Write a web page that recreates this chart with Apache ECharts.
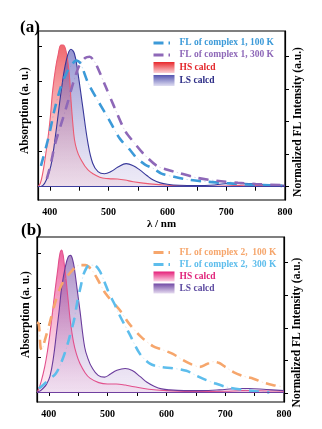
<!DOCTYPE html>
<html>
<head>
<meta charset="utf-8">
<script src="https://cdn.jsdelivr.net/npm/echarts@6/dist/echarts.min.js"></script>
<style>
  html, body { margin: 0; padding: 0; background: #fff; }
  #chart { width: 322px; height: 429px; }
</style>
</head>
<body>
<div id="chart"></div>
<script>
// 数据：[波长 nm, 数值]
// (a) 吸收谱（左轴）
const hsCalcdA = [[380,0],[384,0.1],[388,0.38],[392,0.8],[397,1.4],[401,2.0],[405,2.76],[410,3.4],[414,3.75],[419,4.05],[423,4.05],[428,3.85],[433,3.25],[436,2.5],[439,1.85],[442,1.35],[446,1.05],[451,0.84],[465,0.48],[485,0.27],[500,0.23],[515,0.22],[528,0.19],[542,0.14],[570,0.08],[600,0.04],[650,0.01],[700,0.02],[730,0.04],[770,0.03],[800,0.02]]
const lsCalcdA = [[380,0],[388,0.03],[394,0.19],[402,0.6],[410,1.5],[420,2.8],[428,3.6],[436,3.93],[442,3.8],[448,3.24],[456,2.29],[465,1.24],[473,0.67],[482,0.43],[493,0.37],[505,0.44],[516,0.56],[530,0.66],[542,0.6],[553,0.48],[565,0.32],[576,0.19],[588,0.11],[600,0.07],[620,0.04],[650,0.03],[680,0.05],[710,0.1],[730,0.1],[760,0.07],[800,0.04]]
// (a) 荧光（右轴，归一化）
const fl100A = [[385,0.16],[388,0.21],[394,0.31],[400,0.42],[408,0.59],[419,0.77],[428,0.87],[436,0.93],[445,0.97],[452,0.95],[465,0.8],[482,0.66],[499,0.53],[519,0.37],[535,0.29],[548,0.22],[562,0.17],[576,0.14],[590,0.1],[610,0.077],[633,0.055],[661,0.04],[690,0.03],[720,0.02],[750,0.013],[775,0.01],[795,0.005]]
const fl300A = [[395,0.06],[402,0.18],[408,0.31],[415,0.42],[422,0.52],[430,0.64],[440,0.8],[450,0.93],[460,0.99],[468,1.0],[475,0.97],[482,0.91],[495,0.77],[510,0.61],[528,0.43],[545,0.33],[560,0.25],[582,0.16],[600,0.13],[616,0.11],[650,0.068],[684,0.045],[720,0.03],[750,0.02],[800,0.01]]

// (b) 吸收谱
const hsCalcdB = [[380,0],[382,0.05],[387,0.3],[393,0.72],[398,1.2],[402,1.69],[406,2.25],[410,2.84],[415,3.5],[419,4.0],[422,4.1],[427,3.6],[433,2.65],[437,2.0],[442,1.45],[447,1.1],[453,0.82],[462,0.55],[470,0.4],[485,0.27],[500,0.23],[515,0.23],[530,0.2],[545,0.15],[570,0.08],[600,0.04],[650,0.01],[700,0.02],[730,0.04],[770,0.03],[800,0.02]]
const lsCalcdB = [[380,0],[385,0.03],[390,0.1],[396,0.22],[402,0.45],[408,1.0],[413,1.69],[418,2.4],[422,3.03],[428,3.6],[433,3.9],[437,3.95],[441,3.8],[444,3.52],[448,3.0],[453,2.36],[461,1.3],[467,0.95],[473,0.72],[484,0.48],[495,0.43],[505,0.52],[515,0.62],[530,0.68],[542,0.62],[555,0.45],[567,0.28],[580,0.16],[592,0.09],[605,0.06],[630,0.04],[660,0.04],[690,0.06],[720,0.1],[740,0.1],[770,0.07],[800,0.04]]
// (b) 荧光
const fl100B = [[380,0.54],[383,0.53],[386,0.35],[388,0.33],[393,0.4],[400,0.51],[412,0.71],[423,0.84],[440,0.94],[452,0.98],[462,0.98],[472,0.95],[482,0.88],[497,0.76],[520,0.64],[537,0.53],[557,0.43],[577,0.36],[594,0.33],[611,0.3],[625,0.26],[640,0.225],[657,0.2],[668,0.22],[680,0.24],[690,0.23],[700,0.2],[714,0.16],[730,0.13],[748,0.11],[765,0.08],[782,0.06],[795,0.05]]
const fl300B = [[383,0.034],[390,0.06],[400,0.1],[412,0.15],[420,0.22],[429,0.33],[436,0.44],[443,0.56],[449,0.71],[455,0.83],[460,0.92],[469,0.98],[477,0.98],[486,0.94],[494,0.86],[503,0.76],[512,0.68],[520,0.6],[537,0.455],[555,0.3],[572,0.225],[590,0.2],[611,0.19],[634,0.17],[648,0.14],[662,0.11],[682,0.075],[702,0.046],[730,0.025],[755,0.012],[775,0.005]]

// 刻度
const xTicks = [400,450,500,550,600,650,700,750,800]
const xLabels = [400,500,600,700,800]
const absTicks = [0,1,2,3,4]
const flTicks = [0,0.25,0.5,0.75,1]

const FONT = "'Liberation Serif', 'Times New Roman', serif"

function grad(top, bottom) {
    return { type: 'linear', x: 0, y: 0, x2: 0, y2: 1, colorStops: [{ offset: 0, color: top }, { offset: 1, color: bottom }] }
}

function xAxisOf(grid, showName) {
    return {
        type: 'value', gridIndex: grid, min: 380, max: 800,
        name: showName ? 'λ / nm' : '', nameLocation: 'middle', nameGap: 19,
        nameTextStyle: { fontFamily: FONT, fontWeight: 'bold', fontSize: 11, color: '#000' },
        axisLine: { lineStyle: { color: '#000', width: 1.2 } },
        axisTick: { length: 4, customValues: xTicks, lineStyle: { color: '#000' } },
        axisLabel: { customValues: xLabels, margin: 7, fontFamily: FONT, fontWeight: 'bold', fontSize: 10, color: '#000' },
        splitLine: { show: false }
    }
}

function yAxisOf(grid, pos, min, max, ticks, name, gap, pad) {
    return {
        type: 'value', gridIndex: grid, position: pos, min: min, max: max,
        name: name, nameLocation: 'middle', nameGap: gap, nameRotate: 90,
        nameTextStyle: { fontFamily: FONT, fontWeight: 'bold', fontSize: 11.5, color: '#000', padding: pad },
        axisLine: { show: true, lineStyle: { color: '#000', width: 1.2 } },
        axisTick: { show: true, inside: pos === 'left', length: 4, customValues: ticks, lineStyle: { color: '#000' } },
        axisLabel: { show: false },
        splitLine: { show: false }
    }
}

function areaSeries(name, data, xi, yi, lineColor, top, bottom, baseColor) {
    const s = {
        name: name, type: 'line', xAxisIndex: xi, yAxisIndex: yi, data: data,
        smooth: 0.4, symbol: 'none', showSymbol: false,
        lineStyle: { color: lineColor, width: 1.1 },
        itemStyle: { color: lineColor },
        areaStyle: { color: grad(top, bottom) }
    }
    if (baseColor) {
        s.markLine = { silent: true, symbol: 'none', label: { show: false }, lineStyle: { color: baseColor, type: 'solid', width: 1 }, data: [{ yAxis: 0 }] }
    }
    return s
}

// 荧光：粗虚线 + 浅色细线（模拟点划线的淡点）
function flSeries(name, data, xi, yi, color) {
    return [
        { name: name + '_bg', type: 'line', xAxisIndex: xi, yAxisIndex: yi, data: data, smooth: 0.3, symbol: 'none',
          lineStyle: { color: color, width: 1, opacity: 0.3, type: [1.5, 3] }, z: 3 },
        { name: name, type: 'line', xAxisIndex: xi, yAxisIndex: yi, data: data, smooth: 0.3, symbol: 'none', showSymbol: false,
          lineStyle: { color: color, width: 2.6, type: [10, 8] }, itemStyle: { color: color }, z: 4 }
    ]
}

function legendOf(top, gap, h, items) {
    return {
        orient: 'vertical', left: 147, top: top, itemWidth: 21, itemHeight: h, itemGap: gap,
        selectedMode: false,
        textStyle: { fontFamily: FONT, fontWeight: 'bold', fontSize: 9.5 },
        data: items
    }
}

const cA1 = '#3c9ad8', cA3 = '#8e68b8'
const cB1 = '#f6a66c', cB3 = '#5dbdec'

const myChart = echarts.init(document.getElementById('chart'))

const option = {
    animation: false,
    title: [
        { text: '(a)', left: 15, top: 14, textStyle: { fontFamily: FONT, fontWeight: 'bold', fontSize: 17, color: '#000' } },
        { text: '(b)', left: 16, top: 217, textStyle: { fontFamily: FONT, fontWeight: 'bold', fontSize: 17, color: '#000' } }
    ],
    grid: [
        { left: 38, top: 31, width: 247, height: 169, show: true, borderColor: '#000', borderWidth: 1.2, backgroundColor: 'transparent' },
        { left: 37, top: 237, width: 247, height: 165, show: true, borderColor: '#000', borderWidth: 1.2, backgroundColor: 'transparent' }
    ],
    legend: [
        legendOf(33, 2, 11, [
            { name: 'FL of complex 1, 100 K', itemStyle: { opacity: 0 }, lineStyle: { type: [10, 5, 1.5, 20], width: 3 }, textStyle: { color: cA1 } },
            { name: 'FL of complex 1, 300 K', itemStyle: { opacity: 0 }, lineStyle: { type: [10, 5, 1.5, 20], width: 3 }, textStyle: { color: cA3 } },
            { name: 'HS calcd', icon: 'rect', itemStyle: { color: grad('#e8282c', '#fbd2d6') }, textStyle: { color: '#e3262a' } },
            { name: 'LS calcd', icon: 'rect', itemStyle: { color: grad('#5555b0', '#e0def2') }, textStyle: { color: '#2c2c86' } }
        ]),
        legendOf(242.5, 2, 10, [
            { name: 'FL of complex 2,  100 K', itemStyle: { opacity: 0 }, lineStyle: { type: [10, 5, 1.5, 20], width: 3 }, textStyle: { color: cB1 } },
            { name: 'FL of complex 2,  300 K', itemStyle: { opacity: 0 }, lineStyle: { type: [10, 5, 1.5, 20], width: 3 }, textStyle: { color: cB3 } },
            { name: 'HS calcd ', icon: 'rect', itemStyle: { color: grad('#e51e78', '#fbd6e6') }, textStyle: { color: '#e0247a' } },
            { name: 'LS calcd ', icon: 'rect', itemStyle: { color: grad('#7048a4', '#e6dcf0') }, textStyle: { color: '#5c4aa0' } }
        ])
    ],
    xAxis: [xAxisOf(0, true), xAxisOf(1, false)],
    yAxis: [
        yAxisOf(0, 'left', -0.38, 4.45, absTicks, 'Absorption (a. u.)', 7, [0, 0, 0, 10]),
        yAxisOf(0, 'right', -0.103, 1.198, flTicks, 'Normalized FL Intensity (a.u.)', 7, [0, 13, 0, 0]),
        yAxisOf(1, 'left', -0.29, 4.48, absTicks, 'Absorption (a. u.)', 5, [0, 0, 0, 10]),
        yAxisOf(1, 'right', -0.069, 1.196, flTicks, 'Normalized FL Intensity (a.u.)', 7.5, [0, 26, 0, 0])
    ],
    series: [
        areaSeries('HS calcd', hsCalcdA, 0, 0, '#ec5a72', 'rgba(232,28,36,0.95)', 'rgba(246,170,180,0.35)'),
        areaSeries('LS calcd', lsCalcdA, 0, 0, '#38389a', 'rgba(64,64,172,0.8)', 'rgba(196,186,228,0.4)', '#4040a0'),
        ...flSeries('FL of complex 1, 100 K', fl100A, 0, 1, cA1),
        ...flSeries('FL of complex 1, 300 K', fl300A, 0, 1, cA3),

        areaSeries('HS calcd ', hsCalcdB, 1, 2, '#e2508c', 'rgba(228,20,112,0.95)', 'rgba(248,182,212,0.35)'),
        areaSeries('LS calcd ', lsCalcdB, 1, 2, '#6a3c9c', 'rgba(104,52,152,0.8)', 'rgba(206,186,228,0.4)', '#7040a0'),
        ...flSeries('FL of complex 2,  100 K', fl100B, 1, 3, cB1),
        ...flSeries('FL of complex 2,  300 K', fl300B, 1, 3, cB3)
    ]
}

option && myChart.setOption(option, true)
</script>
</body>
</html>
